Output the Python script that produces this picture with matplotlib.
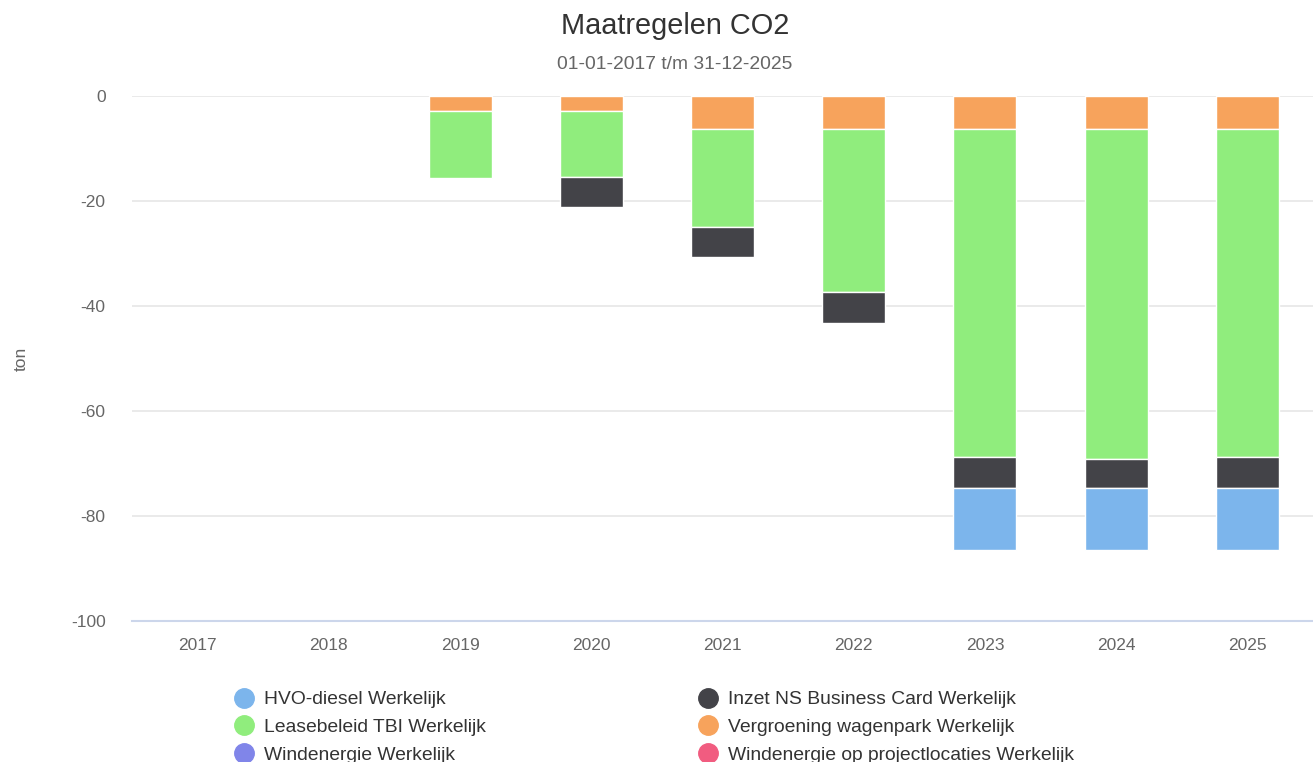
import matplotlib.pyplot as plt
import numpy as np
from matplotlib.lines import Line2D

plt.rcParams['font.family'] = ['Liberation Sans', 'DejaVu Sans']
plt.rcParams['axes.unicode_minus'] = False

years = ['2017', '2018', '2019', '2020', '2021', '2022', '2023', '2024', '2025']

# ton CO2, negative = reduction
hvo = [0, 0, 0, 0, 0, 0, -11.9, -11.9, -11.9]
inzet_ns = [0, 0, 0, -5.7, -5.7, -5.8, -5.8, -5.4, -5.8]
lease = [0, 0, -12.8, -12.5, -18.7, -31.2, -62.6, -63.0, -62.6]
vergroening = [0, 0, -2.9, -2.9, -6.2, -6.2, -6.2, -6.2, -6.2]
wind = [0, 0, 0, 0, 0, 0, 0, 0, 0]
wind_proj = [0, 0, 0, 0, 0, 0, 0, 0, 0]

series_names = ['HVO-diesel Werkelijk', 'Inzet NS Business Card Werkelijk',
                'Leasebeleid TBI Werkelijk', 'Vergroening wagenpark Werkelijk',
                'Windenergie Werkelijk', 'Windenergie op projectlocaties Werkelijk']
series_vals = [hvo, inzet_ns, lease, vergroening, wind, wind_proj]
colors = ['#7cb5ec', '#434348', '#90ed7d', '#f7a35c', '#8085e9', '#f15c80']

fig = plt.figure(figsize=(13.13, 7.62), dpi=100)
ax = fig.add_axes([0.1005, 0.185, 0.8995, 0.689])

x = np.arange(len(years))
bottom = np.zeros(len(years))
# last series sits closest to zero (highcharts stacking)
for name, vals, c in reversed(list(zip(series_names, series_vals, colors))):
    v = np.array(vals, dtype=float)
    nz = v != 0
    if nz.any():
        ax.bar(x[nz], v[nz], 0.48, bottom=bottom[nz], color=c, edgecolor='white',
               linewidth=1, zorder=3)
    bottom = bottom + v

ax.set_xlim(-0.5, len(years) - 0.5)
ax.set_ylim(-100, 0)
ax.set_yticks([0, -20, -40, -60, -80, -100])
ax.set_xticks(x)
ax.set_xticklabels(years)
ax.tick_params(axis='both', length=0, labelsize=12.5, colors='#666666')
ax.tick_params(axis='x', pad=12)
ax.tick_params(axis='y', pad=19)
ax.grid(axis='y', color='#e6e6e6', linewidth=1.2, zorder=0)
for s in ['top', 'right', 'left']:
    ax.spines[s].set_visible(False)
ax.spines['bottom'].set_color('#ccd6eb')
ax.spines['bottom'].set_linewidth(1.5)
ax.set_ylabel('ton', fontsize=12.5, color='#666666')
ax.yaxis.set_label_coords(-0.087, 0.5)

fig.text(0.514, 0.966, 'Maatregelen CO2', ha='center', va='center', fontsize=20.8, color='#333333')
fig.text(0.514, 0.916, '01-01-2017 t/m 31-12-2025', ha='center', va='center', fontsize=13.9, color='#666666')

# matplotlib fills legend columns first; reorder so rows read like the original
order = [0, 2, 4, 1, 3, 5]
handles = [Line2D([], [], marker='o', linestyle='none', markersize=14,
                  markerfacecolor=colors[i], markeredgecolor=colors[i]) for i in order]
labels = [series_names[i] for i in order]
fig.legend(handles, labels, ncol=2, loc='upper left', bbox_to_anchor=(0.171, 0.0935),
           frameon=False, fontsize=13.9, labelcolor='#333333', handletextpad=0.05,
           labelspacing=0.53, columnspacing=10.5, borderpad=0, borderaxespad=0)

fig.savefig('out.png', dpi=100)
